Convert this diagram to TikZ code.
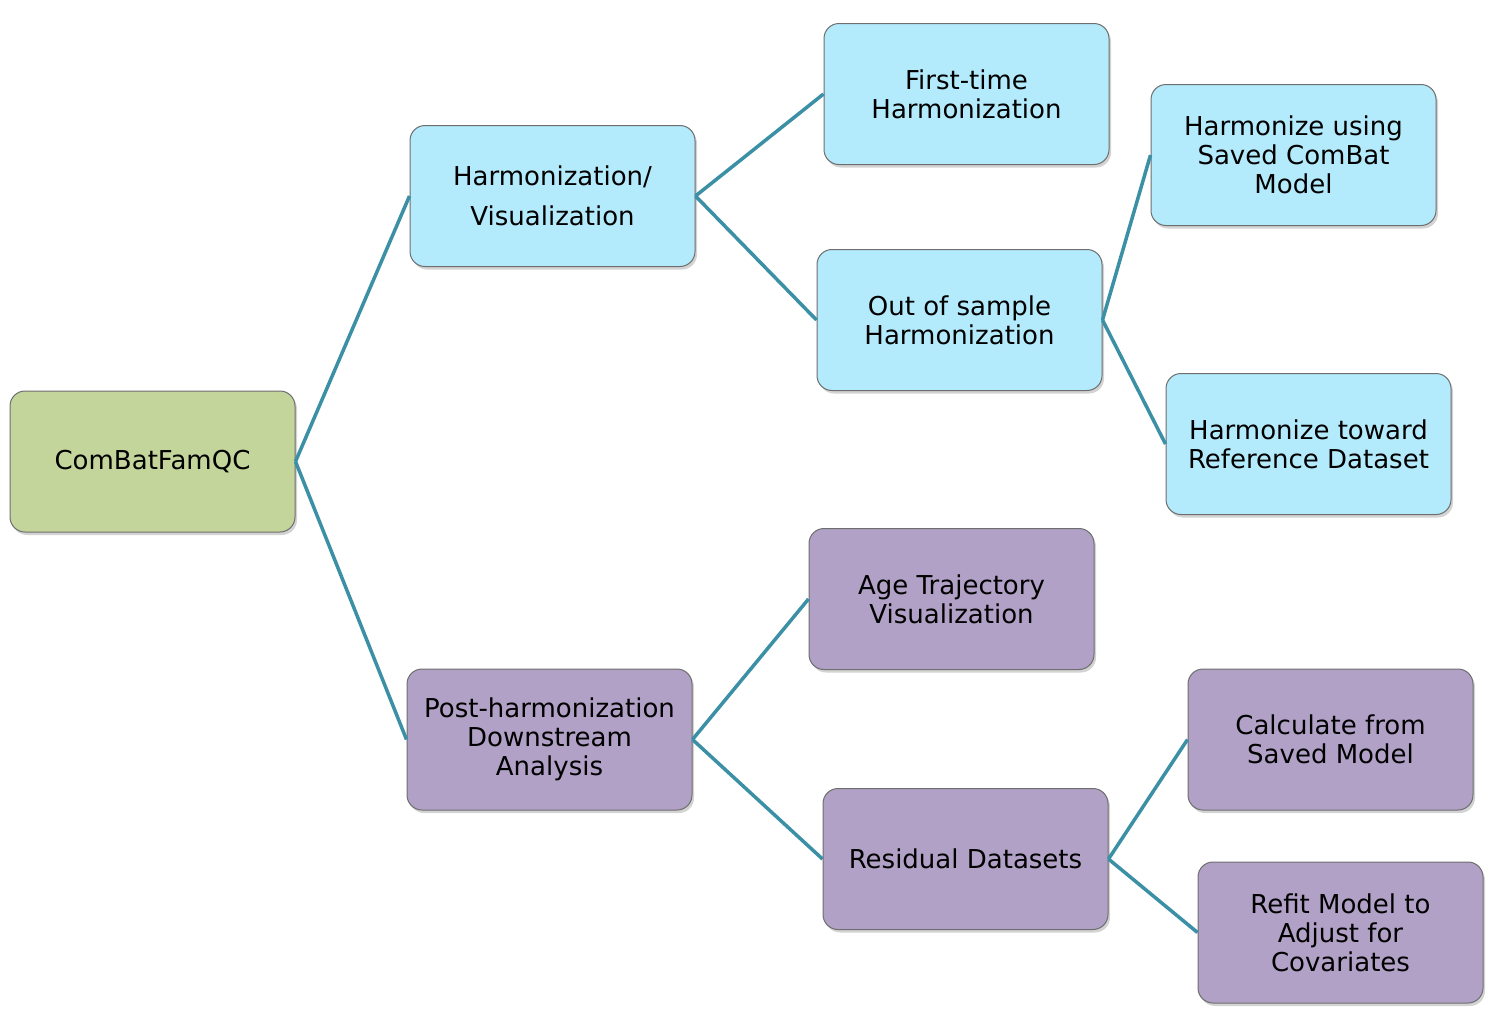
\documentclass[tikz,border=0pt]{standalone}
\usepackage{fontspec}
\setmainfont{DejaVu Sans}
\usetikzlibrary{shadows}
\definecolor{gfill}{HTML}{C3D59B}
\definecolor{bfill}{HTML}{B3EBFC}
\definecolor{pfill}{HTML}{B1A1C6}
\definecolor{lcol}{HTML}{3C90A6}
\definecolor{bord}{HTML}{6E6E6E}
\tikzset{
  box/.style={draw=bord, line width=0.5pt, rounded corners=7.5pt,
    minimum width=142.5pt, minimum height=70.5pt, inner sep=2pt,
    align=center, font=\fontsize{13}{14.5}\selectfont,
    drop shadow={opacity=0.35, shadow xshift=1pt, shadow yshift=-1.5pt}},
  gbox/.style={box, fill=gfill},
  bbox/.style={box, fill=bfill},
  pbox/.style={box, fill=pfill},
  link/.style={draw=lcol, line width=1.75pt}
}
\begin{document}
\begin{tikzpicture}[x=0.5pt, y=-0.5pt]
\useasboundingbox (0,0) rectangle (1500,1019);
\node[gbox] (root) at (152.5,461.5) {ComBatFamQC};
\node[bbox, font=\fontsize{13}{20}\selectfont] (hv) at (552.5,196) {Harmonization/\\Visualization};
\node[bbox] (ft) at (966.5,94) {First-time\\Harmonization};
\node[bbox] (os) at (959.5,320) {Out of sample\\Harmonization};
\node[bbox] (hs) at (1293.5,155) {Harmonize using\\Saved ComBat\\Model};
\node[bbox] (hr) at (1308.5,444) {Harmonize toward\\Reference Dataset};
\node[pbox] (ph) at (549.5,739.5) {Post-harmonization\\Downstream\\Analysis};
\node[pbox] (at) at (951.5,599) {Age Trajectory\\Visualization};
\node[pbox] (rd) at (965.5,859) {Residual Datasets};
\node[pbox] (cs) at (1330.5,739.5) {Calculate from\\Saved Model};
\node[pbox] (rf) at (1340.5,932.5) {Refit Model to\\Adjust for\\Covariates};
\draw[link] (root.east) -- (hv.west);
\draw[link] (root.east) -- (ph.west);
\draw[link] (hv.east) -- (ft.west);
\draw[link] (hv.east) -- (os.west);
\draw[link] (os.east) -- (hs.west);
\draw[link] (os.east) -- (hr.west);
\draw[link] (ph.east) -- (at.west);
\draw[link] (ph.east) -- (rd.west);
\draw[link] (rd.east) -- (cs.west);
\draw[link] (rd.east) -- (rf.west);
\end{tikzpicture}
\end{document}
